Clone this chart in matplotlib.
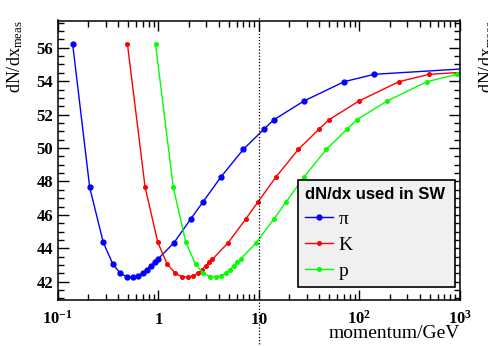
import matplotlib
matplotlib.use("Agg")
import matplotlib.pyplot as plt
import matplotlib.transforms as mtransforms
from matplotlib.ticker import FixedLocator, LogLocator, MultipleLocator, NullFormatter

plt.rcParams['font.family'] = ['Liberation Serif', 'DejaVu Serif']
plt.rcParams['mathtext.fontset'] = 'custom'
plt.rcParams['mathtext.rm'] = 'Liberation Serif'
plt.rcParams['mathtext.it'] = 'Liberation Serif:italic'
plt.rcParams['mathtext.bf'] = 'Liberation Serif:bold'

# momentum in GeV for each species
p_pion = [0.141, 0.208, 0.284, 0.354, 0.42, 0.49, 0.565, 0.63, 0.70, 0.77, 0.84, 0.92,
          0.99, 1.43, 2.1, 2.8, 4.2, 7.0, 11.2, 14.0, 28.0, 70.5, 140, 1400]
p_kaon = [0.494, 0.74, 0.99, 1.23, 1.48, 1.73, 1.97, 2.22, 2.47, 2.72, 2.96, 3.21,
          3.46, 4.94, 7.4, 9.87, 14.8, 24.7, 39.5, 49.4, 98.7, 247, 494, 4940]
p_proton = [0.94, 1.41, 1.88, 2.35, 2.81, 3.28, 3.75, 4.22, 4.69, 5.16, 5.63, 6.10,
            6.57, 9.38, 14.1, 18.8, 28.1, 46.9, 75.1, 93.8, 188, 469, 938, 9380]
# measured dN/dx at those points (same curve for all three)
dndx = [56.2, 47.65, 44.35, 43.05, 42.5, 42.3, 42.28, 42.35, 42.52, 42.73, 42.96, 43.17,
        43.35, 44.33, 45.75, 46.8, 48.27, 49.92, 51.12, 51.68, 52.81, 53.97, 54.41, 54.78]

labels = ['\u03c0', 'K', 'p']
colors = ['#0000ff', '#ff0000', '#00ff00']

xticks = [0.1, 1, 10, 100, 1000]
xticklabels = [r'$\mathbf{10^{-1}}$', r'$\mathbf{1}$', r'$\mathbf{10}$',
               r'$\mathbf{10^{2}}$', r'$\mathbf{10^{3}}$']
yticks = [42, 44, 46, 48, 50, 52, 54, 56]

W, H = 489, 346
fig = plt.figure(figsize=(W / 100, H / 100), dpi=100)
ax = fig.add_axes([57.7 / W, 1 - 300 / H, (460 - 57.7) / W, (300 - 20.5) / H])

lines = []
l, = ax.plot(p_pion, dndx, '-o', color=colors[0], lw=1.0, ms=3.5)
lines.append(l)
l, = ax.plot(p_kaon, dndx, '-o', color=colors[1], lw=1.0, ms=2.6)
lines.append(l)
l, = ax.plot(p_proton, dndx, '-o', color=colors[2], lw=1.0, ms=2.6)
lines.append(l)

ax.set_xscale('log')
ax.set_xlim(0.1, 1000)
ax.set_ylim(40.91, 57.63)

ax.xaxis.set_major_locator(FixedLocator(xticks))
ax.set_xticklabels(xticklabels)
ax.xaxis.set_minor_locator(LogLocator(base=10, subs=range(2, 10)))
ax.xaxis.set_minor_formatter(NullFormatter())
ax.yaxis.set_major_locator(FixedLocator(yticks))
ax.set_yticklabels([str(v) for v in yticks])
ax.yaxis.set_minor_locator(MultipleLocator(0.5))

ax.tick_params(which='both', direction='in', top=True, right=True, width=1.0, colors='k')
ax.tick_params(axis='x', which='major', length=7.5, pad=17, labelsize=12)
ax.tick_params(axis='x', which='minor', length=4)
ax.tick_params(axis='y', which='major', length=8, pad=3.4, labelsize=12)
ax.tick_params(axis='y', which='minor', length=4.3)
for t in ax.get_xticklabels():
    t.set_verticalalignment('baseline')
for t in ax.get_yticklabels():
    t.set_fontweight('bold')
for s in ax.spines.values():
    s.set_linewidth(1.1)

# dotted marker at 10 GeV running past the frame
trans = mtransforms.blended_transform_factory(ax.transData, ax.transAxes)
ax.plot([10, 10], [-0.17, 1.013], transform=trans, clip_on=False, color='k',
        lw=0.9, ls=(0, (1, 1.5)))

ax.set_xlabel('momentum/GeV', fontsize=14, loc='right', va='center')
ax.xaxis.set_label_coords(1.0, -(333 - 300) / (300 - 20.5))

fig.text(5 / W, 1 - 20 / H, r'dN/dx$_{\mathrm{meas}}$', rotation=90, ha='left', va='top',
         fontsize=13)
# label of the neighbouring panel, cut by the figure edge
fig.text(477 / W, 1 - 20 / H, r'dN/dx$_{\mathrm{meas}}$', rotation=90, ha='left', va='top',
         fontsize=13)

leg = ax.legend(lines, labels, title='dN/dx used in SW', loc='upper left',
                bbox_to_anchor=(0.598, 0.05, 0.39, 0.379), mode='expand',
                borderaxespad=0, fancybox=False, edgecolor='k', facecolor='#f0f0f0',
                framealpha=1, handlelength=1.45, handletextpad=0.3, borderpad=0.335,
                labelspacing=0.44, alignment='left', numpoints=1,
                prop={'family': 'Liberation Serif', 'size': 14},
                title_fontproperties={'family': 'Liberation Sans', 'weight': 'bold', 'size': 12})
leg.get_frame().set_linewidth(1.2)

fig.savefig('out.png', dpi=100)
